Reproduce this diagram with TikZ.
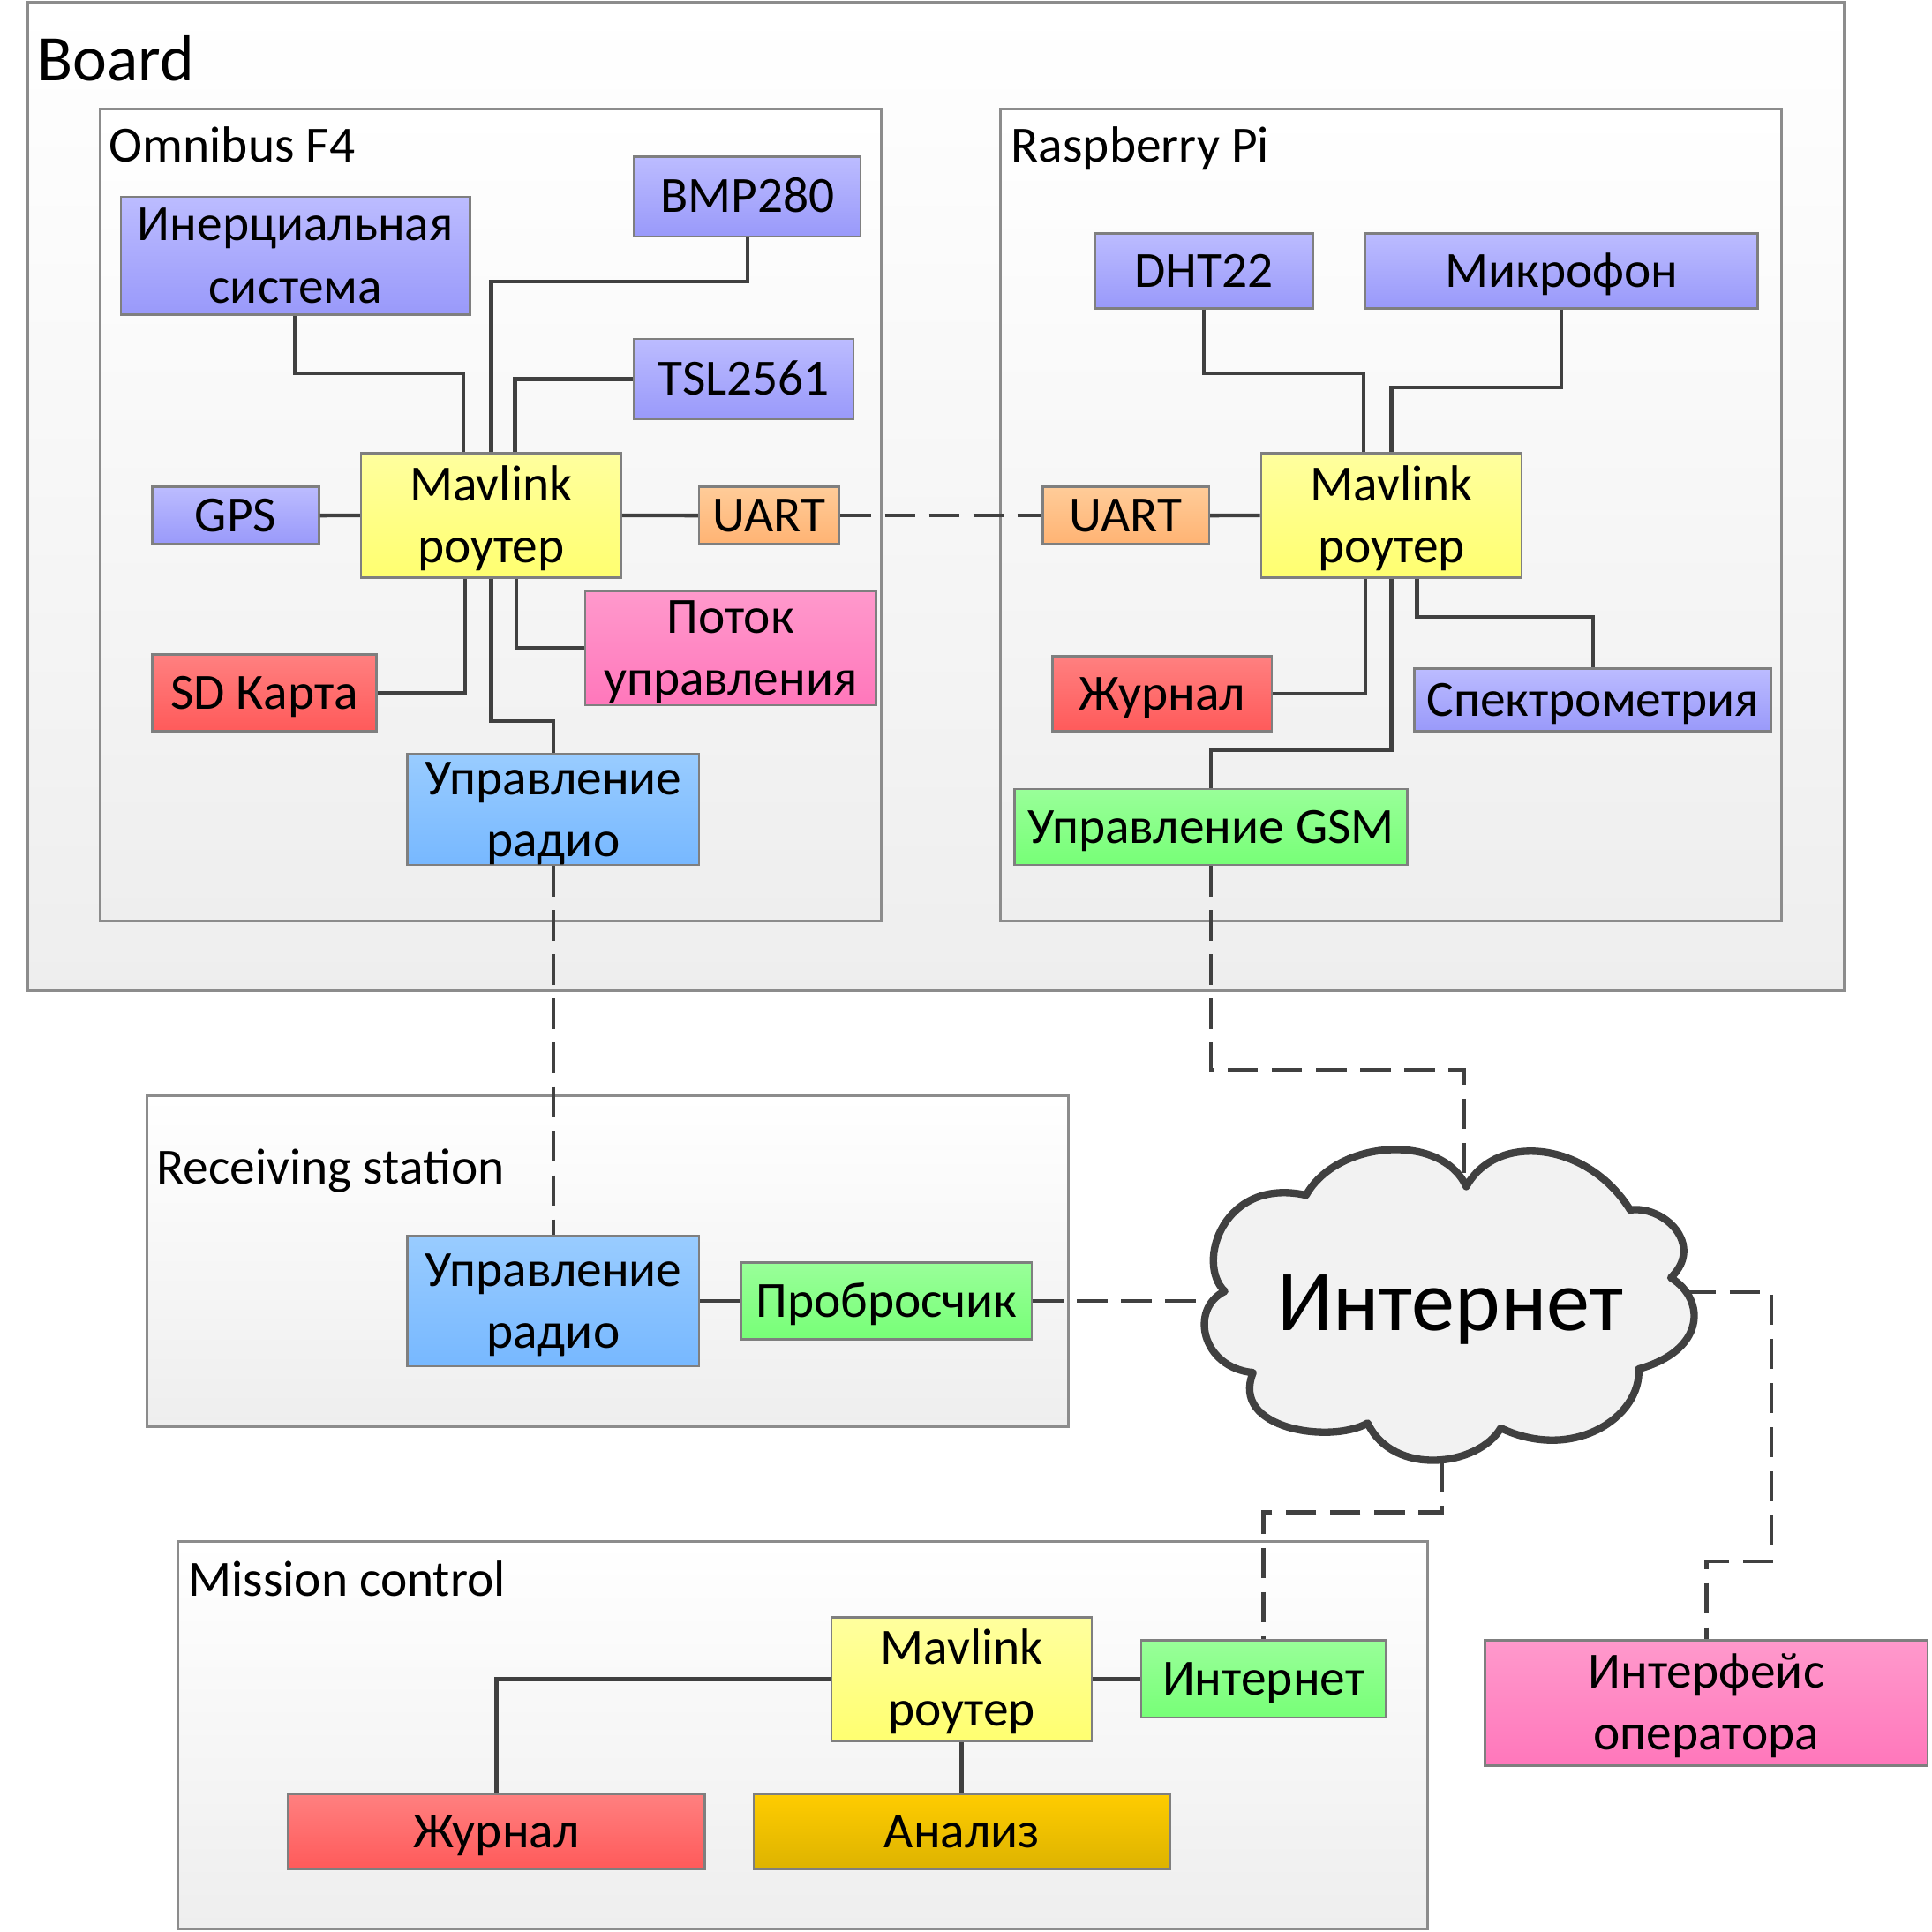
\documentclass[tikz,border=0pt]{standalone}
\usepackage{fontspec}
\setmainfont{Carlito}
\usetikzlibrary{fit,calc}
\definecolor{wiregray}{HTML}{404040}
\definecolor{boxgray}{HTML}{7F7F7F}
\definecolor{contgray}{HTML}{8C8C8C}
\definecolor{contbot}{HTML}{EEEEEE}
\definecolor{purT}{HTML}{BCBCFF}\definecolor{purB}{HTML}{9999FA}
\definecolor{yelT}{HTML}{FFFF9E}\definecolor{yelB}{HTML}{FFFF70}
\definecolor{oraT}{HTML}{FFCC99}\definecolor{oraB}{HTML}{FFB373}
\definecolor{pinT}{HTML}{FF99CC}\definecolor{pinB}{HTML}{FF77BB}
\definecolor{redT}{HTML}{FF8080}\definecolor{redB}{HTML}{FF5A5A}
\definecolor{bluT}{HTML}{99CCFF}\definecolor{bluB}{HTML}{77B8FF}
\definecolor{greT}{HTML}{99FF99}\definecolor{greB}{HTML}{77FF77}
\definecolor{golT}{HTML}{FFCC00}\definecolor{golB}{HTML}{DDB300}
\definecolor{cloudfill}{HTML}{F2F2F2}
\newcommand\boxfont{\fontsize{11.7pt}{14.3pt}\selectfont}
\newcommand\mkbox[7]{\node[box,#6,minimum width={(#4-#2)*0.1mm},minimum height={(#5-#3)*0.1mm}] (#1) at ({(#2+#4)/2},{(#3+#5)/2}) {#7};}
\newcommand\mkcont[5]{\node[cont,fit={(#2,#3) (#4,#5)}] (#1) {};}
\tikzset{
  cont/.style={draw=contgray, line width=0.6pt, inner sep=0pt, top color=white, bottom color=contbot},
  box/.style={draw=boxgray, line width=0.5pt, inner sep=0pt, align=center, font=\boxfont, text height=7.4pt, text depth=0pt},
  two/.style={text height=21.7pt, text depth=0pt},
  pur/.style={top color=purT, bottom color=purB},
  yel/.style={top color=yelT, bottom color=yelB},
  ora/.style={top color=oraT, bottom color=oraB},
  pin/.style={top color=pinT, bottom color=pinB},
  redc/.style={top color=redT, bottom color=redB},
  blu/.style={top color=bluT, bottom color=bluB},
  gre/.style={top color=greT, bottom color=greB},
  gol/.style={top color=golT, bottom color=golB},
  lbl/.style={anchor=base west, inner sep=0pt, font=\boxfont},
  wire/.style={draw=wiregray, line width=0.9pt},
  link/.style={draw=wiregray, line width=0.9pt, dash pattern=on 7pt off 3.2pt},
  cloudshape/.style={draw=wiregray, line width=1.7pt, line join=round, fill=cloudfill},
}
\begin{document}
\begin{tikzpicture}[x=0.1mm, y=-0.1mm]
\useasboundingbox (0,0) rectangle (1568,1568);
% containers
\mkcont{board}{22.6}{1.5}{1497}{804.3}
\mkcont{omni}{81.4}{88.4}{715.1}{747.7}
\mkcont{rpi}{812}{88.4}{1446}{747.7}
\mkcont{recv}{119.6}{889.4}{867.2}{1157.7}
\mkcont{mission}{144.7}{1250.8}{1158.9}{1565.3}
\node[lbl, font=\fontsize{15pt}{18pt}\selectfont] (lblboard) at (30,65.3) {Board};
\node[lbl] (lblomni) at (88,131.7) {Omnibus F4};
\node[lbl] (lblrpi) at (820,131.7) {Raspberry Pi};
\node[lbl] (lblrecv) at (126.6,961.1) {Receiving station};
\node[lbl] (lblmis) at (152.3,1295.6) {Mission control};
% Omnibus boxes
\mkbox{inerc}{98}{159.8}{381.4}{255.3}{pur,two}{Инерциальная\\система}
\mkbox{bmp}{514.6}{127.1}{698.5}{192}{pur}{BMP280}
\mkbox{tsl}{514.6}{274.9}{692.5}{340.2}{pur}{TSL2561}
\mkbox{mavA}{293}{367.8}{504}{468.8}{yel,two}{Mavlink\\роутер}
\mkbox{gps}{123.6}{395}{258.8}{441.7}{pur}{GPS}
\mkbox{uartA}{567.3}{395}{681.4}{441.7}{ora}{UART}
\mkbox{potok}{474.9}{479.9}{711}{572.4}{pin,two}{Поток\\управления}
\mkbox{sd}{123.6}{531.2}{305.5}{593.5}{redc}{SD Карта}
\mkbox{radioA}{330.7}{611.6}{567.3}{702}{blu,two}{Управление\\радио}
% Raspberry boxes
\mkbox{dht}{888.6}{189.4}{1065.8}{250.3}{pur}{DHT22}
\mkbox{mic}{1108.1}{189.4}{1426.6}{250.3}{pur}{Микрофон}
\mkbox{uartB}{846.3}{395}{981.2}{441.7}{ora}{UART}
\mkbox{mavB}{1023.5}{367.8}{1235}{468.8}{yel,two}{Mavlink\\роутер}
\mkbox{logB}{854.3}{532.7}{1032}{593.5}{redc}{Журнал}
\mkbox{spec}{1148}{542.7}{1437.6}{593.5}{pur}{Спектрометрия}
\mkbox{gsm}{823.4}{640.2}{1142}{702}{gre}{Управление GSM}
% Receiving station
\mkbox{radioR}{330.7}{1002.9}{567.3}{1108.9}{blu,two}{Управление\\радио}
\mkbox{fwd}{601.5}{1024.8}{837.4}{1087}{gre}{Пробросчик}
% Mission control
\mkbox{mavM}{674.9}{1312.5}{886.1}{1413}{yel,two}{Mavlink\\роутер}
\mkbox{inetM}{926}{1331.4}{1125}{1394.1}{gre}{Интернет}
\mkbox{logM}{233.7}{1455.8}{571.9}{1517}{redc}{Журнал}
\mkbox{anal}{611.6}{1455.8}{949.9}{1517}{gol}{Анализ}
% operator
\mkbox{iface}{1205.2}{1331.4}{1564.5}{1432.9}{pin,two}{Интерфейс\\оператора}
% cloud
\draw[cloudshape] (1190,963) .. controls (1215,918) and (1289,927) .. (1323,982)
 .. controls (1350,978) and (1384,1010) .. (1356,1037)
 .. controls (1385,1055) and (1384,1096) .. (1330,1111)
 .. controls (1332,1150) and (1277,1187) .. (1218,1159)
 .. controls (1200,1190) and (1131,1199) .. (1110,1155)
 .. controls (1080,1172) and (998,1160) .. (1017,1114)
 .. controls (975,1110) and (965,1062) .. (994,1048)
 .. controls (970,1025) and (993,955) .. (1060,970)
 .. controls (1085,925) and (1170,919) .. (1190,963) -- cycle;
\node[inner sep=0pt, font=\fontsize{20pt}{24pt}\selectfont, text height=12.6pt, text depth=0pt] (inet) at (1177,1058) {Интернет};
\coordinate (cT) at (1188.3,960);
\coordinate (cL) at (986,1055.9);
\coordinate (cR) at (1368,1048.7);
\coordinate (cB) at (1170.3,1186);
% Omnibus wires
\draw[wire] (inerc.south) |- ($(mavA.north)+(-22.6,-63.8)$) -- ($(mavA.north)+(-22.6,0)$);
\draw[wire] (bmp.south) -- ++(0,35.6) -| (mavA.north);
\draw[wire] (tsl.west) -| ($(mavA.north)+(19.5,0)$);
\draw[wire] (gps.east) -- (mavA.west);
\draw[wire] (mavA.east) -- (uartA.west);
\draw[wire] ($(mavA.south)+(-21.1,0)$) |- (sd.east);
\draw[wire] (mavA.south) -- ++(0,115.6) -| (radioA.north);
\draw[wire] ($(mavA.south)+(20.5,0)$) |- (potok.west);
% Raspberry wires
\draw[wire] (dht.south) |- ($(mavB.north)+(-22.6,-63.8)$) -- ($(mavB.north)+(-22.6,0)$);
\draw[wire] (mic.south) -- ++(0,63.3) -| (mavB.north);
\draw[wire] (uartB.east) -- (mavB.west);
\draw[wire] ($(mavB.south)+(-21.1,0)$) |- (logB.east);
\draw[wire] (mavB.south) -- ++(0,139.2) -| (gsm.north);
\draw[wire] ($(mavB.south)+(20.8,0)$) -- ++(0,31.2) -| (spec.north);
% Receiving / mission wires
\draw[wire] (radioR.east) -- (fwd.west);
\draw[wire] (mavM.west) -| (logM.north);
\draw[wire] (mavM.south) -- (mavM.south |- anal.north);
\draw[wire] (mavM.east) -- (inetM.west);
% dashed links
\draw[link] (uartA.east) -- (uartB.west);
\draw[link] (radioA.south) -- (radioR.north);
\draw[link] (gsm.south) -- ++(0,165.5) -| (cT);
\draw[link] (fwd.east) -- (cL);
\draw[link] (cR) -| ($(iface.north)+(52.8,-63.2)$) -| (iface.north);
\draw[link] (cB) -- ++(0,41.4) -| (inetM.north);
\end{tikzpicture}
\end{document}
